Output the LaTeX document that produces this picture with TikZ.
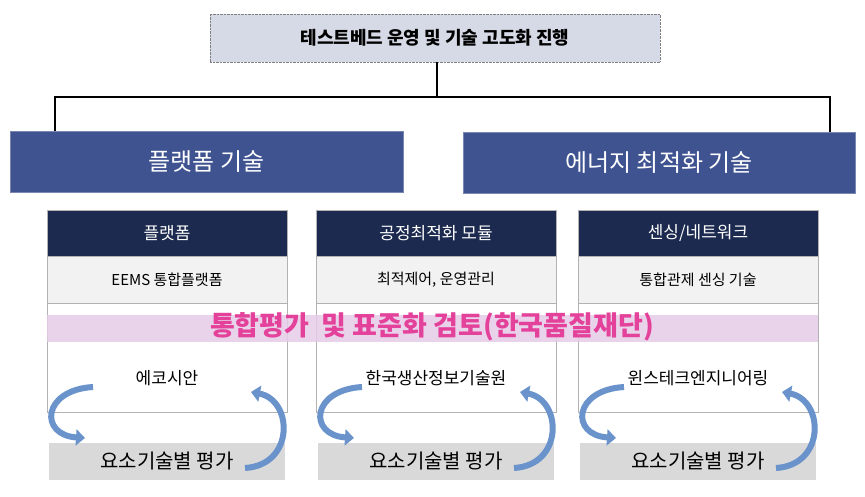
\documentclass[tikz,border=0pt]{standalone}
\usepackage{fontspec}
\setmainfont{Noto Sans CJK KR}
\usetikzlibrary{arrows.meta}
\definecolor{topf}{HTML}{D6DAE6}
\definecolor{bluebar}{HTML}{3F5391}
\definecolor{navy}{HTML}{1B2A4E}
\definecolor{sub}{HTML}{F2F2F2}
\definecolor{pinkband}{HTML}{E6CCE8}
\definecolor{pinktxt}{HTML}{E4419A}
\definecolor{arr}{HTML}{6A93CC}
\definecolor{grayb}{HTML}{D9D9D9}
\tikzset{
 hdr/.style={draw=gray!60,fill=navy,text=white,font=\fontsize{17}{20}\selectfont},
 subb/.style={draw=gray!60,fill=sub,font=\fontsize{15}{18}\selectfont},
 bodyb/.style={draw=gray!60,fill=white},
 evalb/.style={fill=grayb,font=\fontsize{20}{24}\selectfont},
 cyc/.style={line width=6pt,draw=arr,-{Triangle[length=9pt,width=16pt]}},
 bar/.style={fill=bluebar,draw=bluebar!70,text=white,font=\fontsize{24}{28}\selectfont},
}
\begin{document}
\begin{tikzpicture}[x=1pt,y=-1pt]
\useasboundingbox (0,0) rectangle (865,497);
\node[draw=gray,densely dotted,fill=topf,minimum width=450pt,minimum height=48pt,font=\bfseries\fontsize{18}{21}\selectfont] (top) at (435,38) {테스트베드 운영 및 기술 고도화 진행};
\node[bar,minimum width=393pt,minimum height=61pt] (b1) at (206.5,161.5) {플랫폼 기술};
\node[bar,minimum width=392pt,minimum height=61pt] (b2) at (659,162.5) {에너지 최적화 기술};
\coordinate (j) at (437,97);
\draw[line width=1.6pt] (top.south -| j) -- (j);
\draw[line width=1.6pt] (b1.north -| 55,0) |- (j) -| (b2.north -| 830,0);
\foreach \x/\h/\s/\c/\n in {167/{플랫폼}/{EEMS 통합플랫폼}/{에코시안}/1, 436/{공정최적화 모듈}/{최적제어, 운영관리}/{한국생산정보기술원}/2, 698/{센싱/네트워크}/{통합관제 센싱 기술}/{윈스테크엔지니어링}/3}{
 \node[bodyb,minimum width=240pt,minimum height=109pt] (bd\n) at (\x,357.5) {};
 \node[hdr,minimum width=240pt,minimum height=46pt] (h\n) at (\x,233) {\h};
 \node[subb,minimum width=240pt,minimum height=47pt] (s\n) at (\x,279.5) {\s};
 \node[font=\fontsize{17}{20}\selectfont] (c\n) at (\x,378) {\c};
 \node[evalb,minimum width=236pt,minimum height=37pt] (e\n) at (\x,461.5) {요소기술별 평가};
 \draw[cyc] (\x-74,387) .. controls (\x-125,390) and (\x-128,435) .. (\x-82,438);
 \draw[cyc] (\x+78,468) .. controls (\x+128,465) and (\x+126,400) .. (\x+84,392);
}
\fill[pinkband,opacity=0.85] (47,315) rectangle (818,342);
\node[text=pinktxt,font=\bfseries\fontsize{27}{30}\selectfont] (pk) at (432,327) {통합평가 \ 및 표준화 검토(한국품질재단)};
\end{tikzpicture}
\end{document}
